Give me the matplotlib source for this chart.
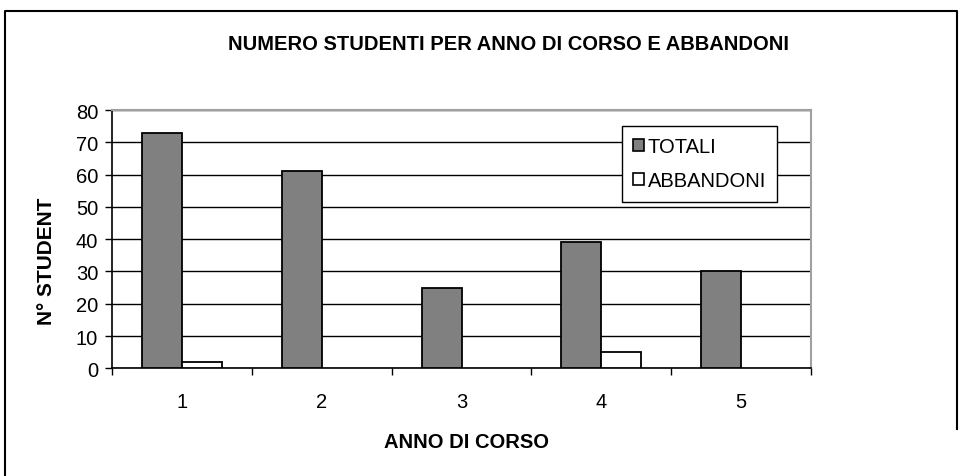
import numpy as np
import matplotlib
matplotlib.use("Agg")
from matplotlib import pyplot as plt
from matplotlib.lines import Line2D
from matplotlib.patches import Patch

plt.rcParams['font.family'] = ['Liberation Sans', 'DejaVu Sans']

anni = ['1', '2', '3', '4', '5']
totali = [73, 61, 25, 39, 30]
abbandoni = [2, 0, 0, 5, 0]

W, H = 960, 477
fig = plt.figure(figsize=(W / 100, H / 100), dpi=100)
ax = fig.add_axes([112 / W, 1 - 369.3 / H, (811 - 112) / W, (369.3 - 111) / H])

# outer chart frame (bottom is cut off in the original)
fx = [957 / W, 957 / W, 5 / W, 5 / W]
fy = [1 - 430 / H, 1 - 12 / H, 1 - 12 / H, -0.05]
fig.add_artist(Line2D(fx, fy, transform=fig.transFigure, color='black',
                      linewidth=1.5))

x = np.arange(1, len(anni) + 1)
bw = 1 / 3.5
ax.bar(x - bw / 2, totali, bw, color='#808080', edgecolor='black', linewidth=1.3,
       zorder=3)
ab = np.array(abbandoni, dtype=float)
ax.bar((x + bw / 2)[ab > 0], ab[ab > 0], bw, color='white', edgecolor='black',
       linewidth=1.3, zorder=3)

ax.set_xlim(0.5, len(anni) + 0.5)
ax.set_ylim(0, 80)
ax.set_yticks(range(0, 81, 10))
ax.set_xticks(x)
ax.set_xticklabels(anni)
ax.set_xticks(np.arange(0.5, len(anni) + 1), minor=True)
ax.tick_params(axis='x', which='major', length=0, pad=17, labelsize=14.5)
ax.tick_params(axis='x', which='minor', length=5, direction='out', width=1)
ax.tick_params(axis='y', length=5, direction='out', width=1, pad=5, labelsize=14.5)
ax.yaxis.grid(True, color='black', linewidth=1)
ax.set_axisbelow(True)

for s in ['top', 'right']:
    ax.spines[s].set_color('#a0a0a0')
    ax.spines[s].set_linewidth(1.5)
for s in ['left', 'bottom']:
    ax.spines[s].set_color('black')
    ax.spines[s].set_linewidth(1.2)

fig.text(508 / W, 1 - 44 / H, 'NUMERO STUDENTI PER ANNO DI CORSO E ABBANDONI',
         ha='center', va='center', fontsize=14.5, fontweight='bold')
fig.text(466 / W, 1 - 443 / H, 'ANNO DI CORSO', ha='center', va='center',
         fontsize=14.5, fontweight='bold')
fig.text(46 / W, 1 - 261 / H, 'N° STUDENT', ha='center', va='center',
         rotation=90, fontsize=15, fontweight='bold')

handles = [Patch(facecolor='#808080', edgecolor='black', linewidth=1.2),
           Patch(facecolor='white', edgecolor='black', linewidth=1.2)]
leg = ax.legend(handles, ['TOTALI', 'ABBANDONI'], loc='upper left',
                bbox_to_anchor=(621.7 / W, 1 - 127.3 / H),
                bbox_transform=fig.transFigure, borderaxespad=0,
                fancybox=False, framealpha=1, edgecolor='black',
                fontsize=14.5, handlelength=0.55, handleheight=0.55,
                handletextpad=0.2, labelspacing=0.75, borderpad=0.55)
leg.get_frame().set_linewidth(1)
leg.set_zorder(5)

fig.savefig('out.png', dpi=100)
